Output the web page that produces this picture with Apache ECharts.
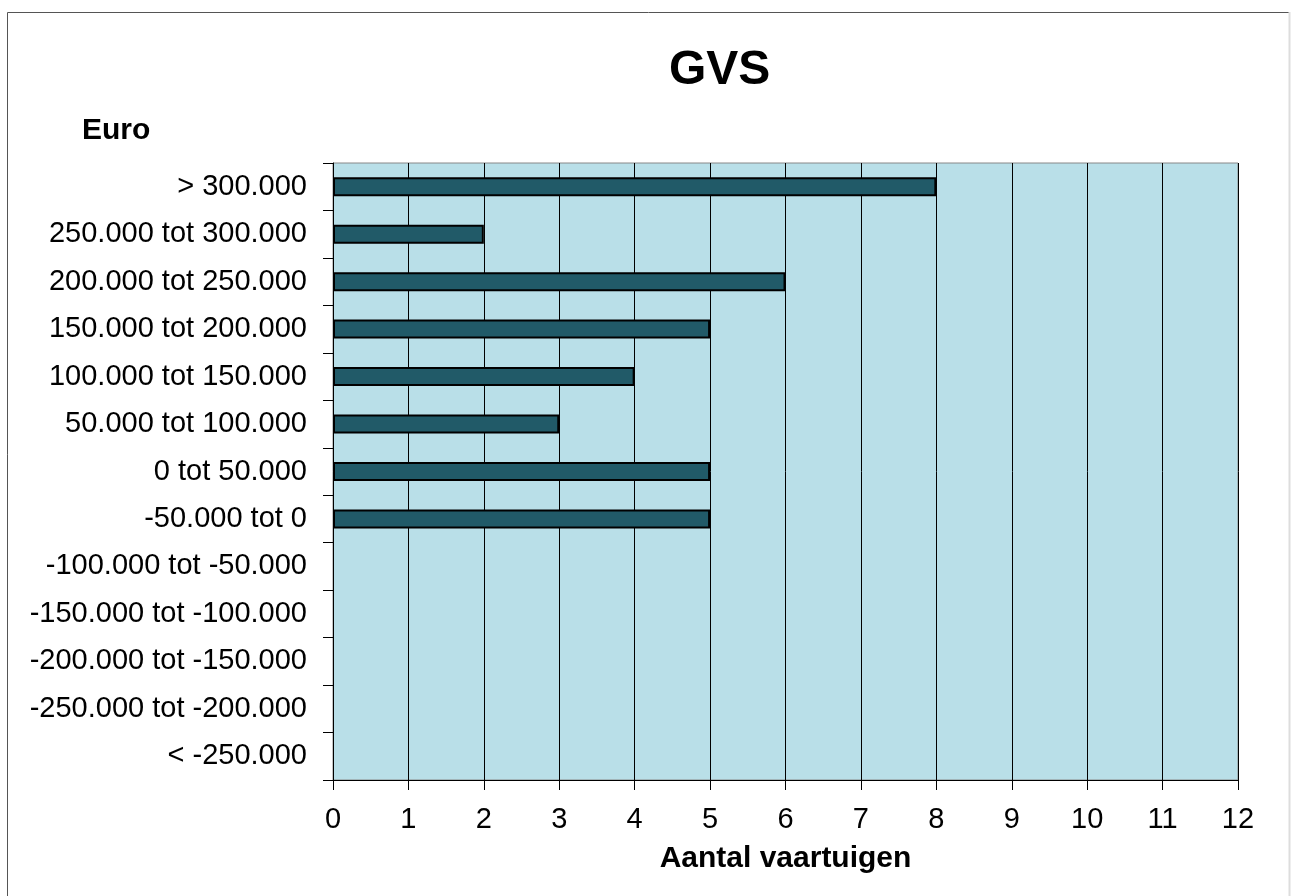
<!DOCTYPE html>
<html>
<head>
<meta charset="utf-8">
<script src="https://cdn.jsdelivr.net/npm/echarts@6/dist/echarts.min.js"></script>
<style>
html,body{margin:0;padding:0;background:#fff;}
#chart{width:1291px;height:896px;}
</style>
</head>
<body>
<div id="chart"></div>
<script>
// categories from top to bottom
var categories = [
    '> 300.000',
    '250.000 tot 300.000',
    '200.000 tot 250.000',
    '150.000 tot 200.000',
    '100.000 tot 150.000',
    '50.000 tot 100.000',
    '0 tot 50.000',
    '-50.000 tot 0',
    '-100.000 tot -50.000',
    '-150.000 tot -100.000',
    '-200.000 tot -150.000',
    '-250.000 tot -200.000',
    '< -250.000'
];
var aantal = [8, 2, 6, 5, 4, 3, 5, 5, 0, 0, 0, 0, 0];

var font = 'Arial, "Liberation Sans", sans-serif';
// no border on empty bars, otherwise a stub is drawn on the axis
var barData = aantal.map(function(v) {
    return {value: v, itemStyle: {borderWidth: v > 0 ? 2 : 0}};
});

var chart = echarts.init(document.getElementById('chart'));
chart.setOption({
    animation: false,
    backgroundColor: '#fff',
    title: {
        text: 'GVS',
        left: 664,
        top: 42,
        textStyle: {fontFamily: font, fontSize: 48, fontWeight: 'bold', color: '#000'}
    },
    graphic: [
        {type: 'rect', shape: {x: 7.5, y: 12.5, width: 1282, height: 900},
         style: {fill: null, stroke: '#555', lineWidth: 1}, silent: true},
        {type: 'line', shape: {x1: 1289.5, y1: 12, x2: 1289.5, y2: 896},
         style: {stroke: '#ddd', lineWidth: 2}, silent: true},
        {type: 'text', left: 82, top: 116,
         style: {text: 'Euro', fontFamily: font, fontSize: 30, fontWeight: 'bold', fill: '#000'}}
    ],
    grid: {
        left: 333, top: 163, right: 53, bottom: 116,
        show: true, backgroundColor: '#b9dfe8', borderColor: '#888', borderWidth: 1
    },
    xAxis: {
        type: 'value',
        min: 0, max: 12, interval: 1,
        name: 'Aantal vaartuigen',
        nameLocation: 'middle',
        nameGap: 64,
        nameTextStyle: {fontFamily: font, fontSize: 30, fontWeight: 'bold', color: '#000'},
        axisLine: {show: true, lineStyle: {color: '#000', width: 1}},
        axisTick: {show: true, length: 10, lineStyle: {color: '#000'}},
        axisLabel: {fontFamily: font, fontSize: 29, color: '#000', margin: 25},
        splitLine: {show: true, lineStyle: {color: '#000', width: 1}}
    },
    yAxis: {
        type: 'category',
        data: categories,
        inverse: true,
        axisLine: {show: true, lineStyle: {color: '#000', width: 1}},
        axisTick: {show: true, length: 10, lineStyle: {color: '#000'}},
        axisLabel: {fontFamily: font, fontSize: 29, color: '#000', margin: 26},
        splitLine: {show: false}
    },
    series: [{
        type: 'bar',
        data: barData,
        barWidth: 19,
        itemStyle: {color: '#215a68', borderColor: '#000', borderWidth: 2}
    }]
});
</script>
</body>
</html>
